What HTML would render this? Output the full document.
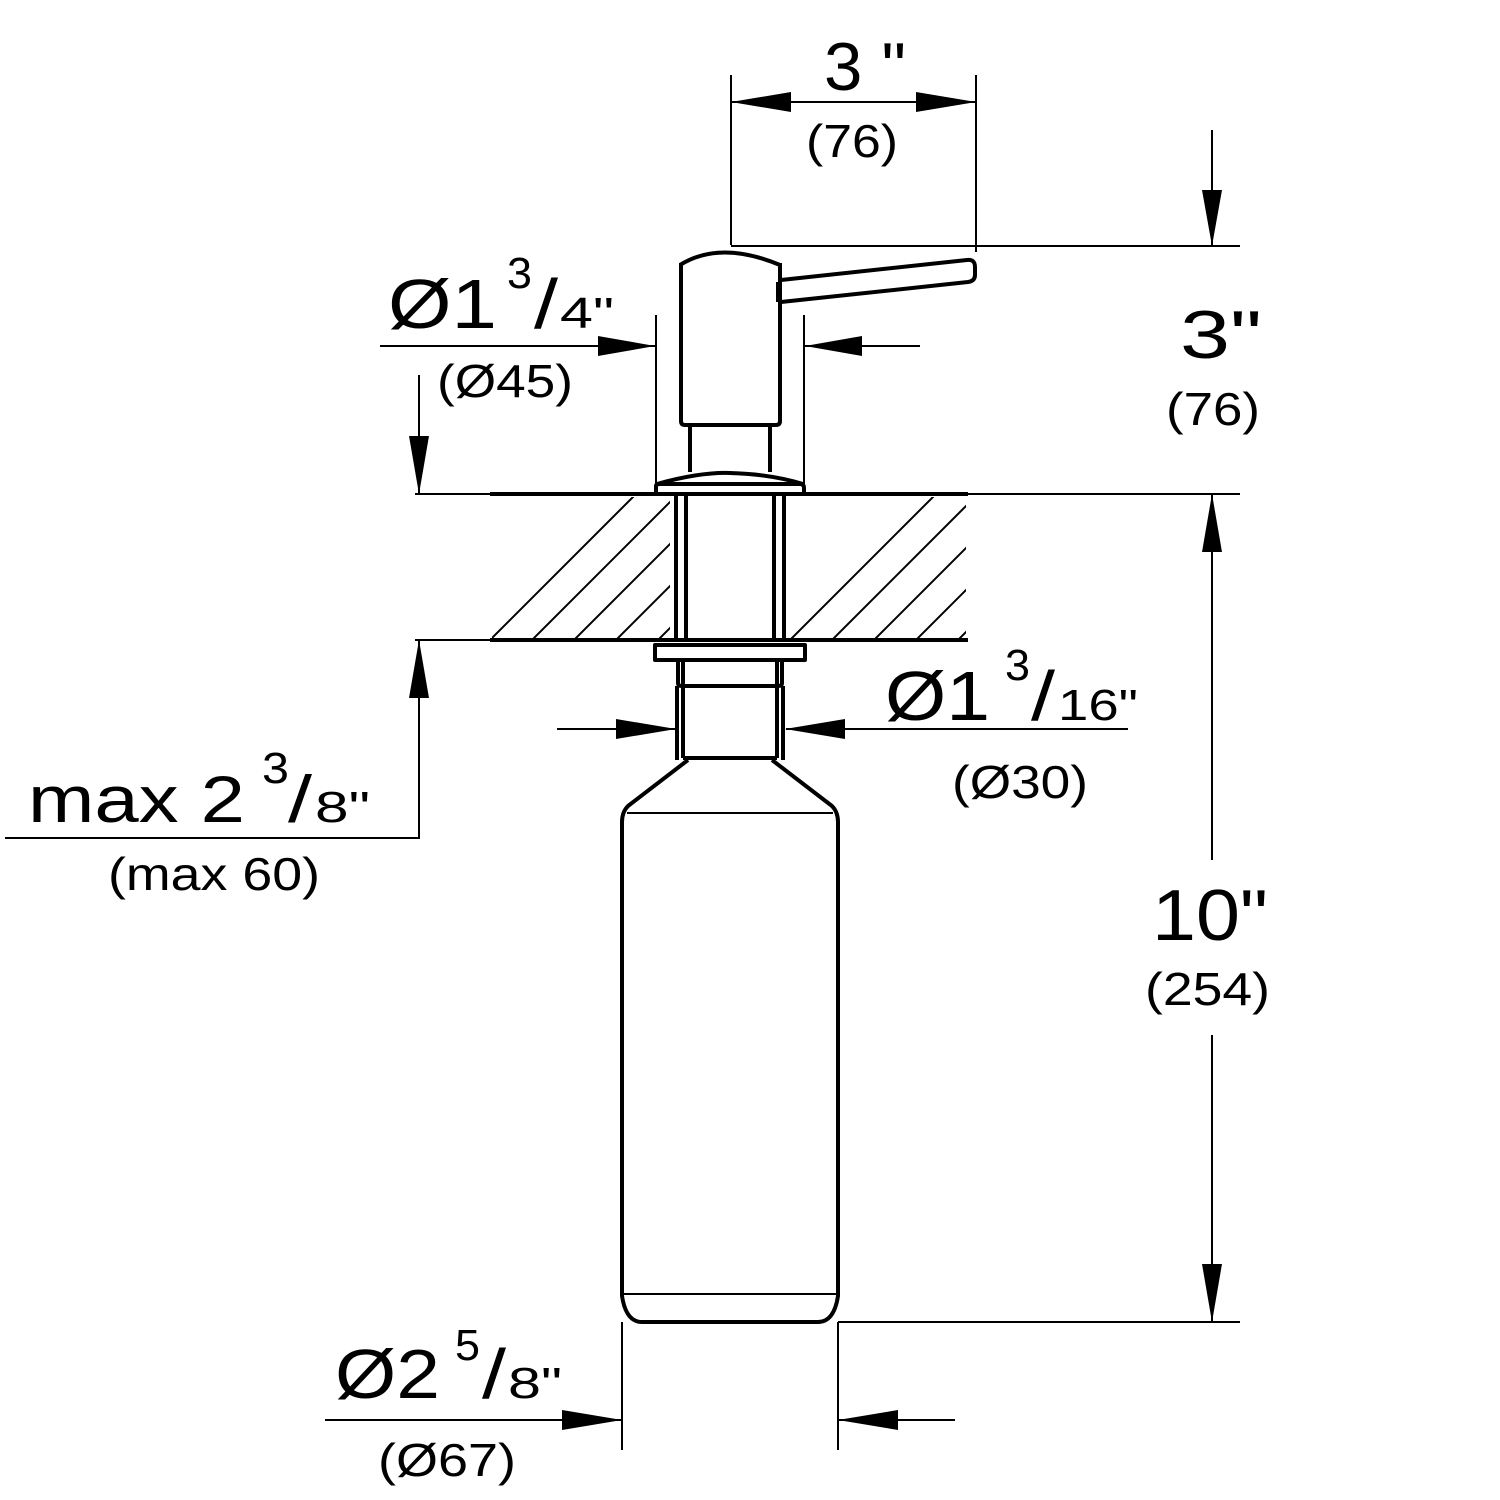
<!DOCTYPE html>
<html><head><meta charset="utf-8"><style>
html,body{margin:0;padding:0;background:#fff;}
svg{display:block;}
text{font-family:"Liberation Sans",Arial,sans-serif;fill:#000;}
</style></head><body>
<svg width="1500" height="1500" viewBox="0 0 1500 1500" xmlns="http://www.w3.org/2000/svg">
<defs>
<clipPath id="hl"><rect x="492" y="497" width="178" height="141"/></clipPath>
<clipPath id="hr"><rect x="790" y="497" width="176" height="141"/></clipPath>
</defs>
<g stroke="#000" stroke-width="2" fill="none">
<g clip-path="url(#hl)">
<path d="M390 740 L640 490 M432 740 L682 490 M474 740 L724 490 M516 740 L766 490 M558 740 L808 490 M600 740 L850 490 M642 740 L892 490 M684 740 L934 490"/>
</g>
<g clip-path="url(#hr)">
<path d="M690 740 L940 490 M732 740 L982 490 M774 740 L1024 490 M816 740 L1066 490 M858 740 L1108 490 M900 740 L1150 490 M942 740 L1192 490 M984 740 L1234 490"/>
</g>
<path d="M415 494 H1240 M415 640 H968"/>
<path d="M490 494 H968 M490 640 H968" stroke-width="4"/>
<g stroke-width="4" stroke-linejoin="round">
<path d="M680 265 Q720 240 780 265 M681 263 V421 Q681 425 685 425 H776 Q780 425 780 421 V263"/>
<path d="M690 425 V472 M770 425 V472"/>
<path d="M657 484 Q700 472 730 473 Q770 474 803 484 M656 494 V486 Q656 484 660 484 H800 Q804 484 804 488 V494"/>
<path d="M781 280 L967 260 Q975 259 975 267 V275 Q975 281 968 282 L781 302 M778 282 V302"/>
<path d="M676 494 V642 M784 494 V642 M686 494 V642 M774 494 V642"/>
<path d="M655 645 H805 V660 H655 Z"/>
<path d="M678 660 V683 Q678 686 682 686 H778 Q782 686 782 683 V660"/>
<path d="M683 660 V686 M777 660 V686"/>
<path d="M677 686 V760 M783 686 V760 M683 686 V758 M777 686 V758 M683 758 H777"/>
<path d="M688 760 L628 806 Q622 812 622 822 V1296 Q626 1322 642 1322 H818 Q834 1322 838 1296 V822 Q838 812 832 806 L772 760"/>
</g>
<path d="M627 813 H833 M622 1294 H838"/>
<path d="M731 75 V245 M976 75 V252 M731 102 H976"/>
<path d="M731 246 H1240 M1212 130 V246"/>
<path d="M1212 494 V860 M1212 1035 V1322 M838 1322 H1240"/>
<path d="M419 375 V494 M419 640 V838 H5"/>
<path d="M380 346 H655 M656 315 V485 M804 315 V485 M804 346 H920"/>
<path d="M557 729 H675 M786 729 H1128"/>
<path d="M622 1322 V1450 M838 1322 V1450 M325 1420 H622 M838 1420 H955"/>
</g>
<g fill="#000">
<polygon points="731,102 791,92 791,112"/>
<polygon points="976,102 916,92 916,112"/>
<polygon points="1212,246 1202,190 1222,190"/>
<polygon points="1212,494 1202,552 1222,552"/>
<polygon points="1212,1322 1202,1264 1222,1264"/>
<polygon points="419,494 409,436 429,436"/>
<polygon points="419,640 409,698 429,698"/>
<polygon points="655,346 598,336 598,356"/>
<polygon points="805,346 862,336 862,356"/>
<polygon points="676,729 616,719 616,739"/>
<polygon points="785,729 845,719 845,739"/>
<polygon points="622,1420 562,1410 562,1430"/>
<polygon points="838,1420 898,1410 898,1430"/>
</g>
<text x="824" y="90" font-size="68" textLength="82" lengthAdjust="spacingAndGlyphs">3 "</text>
<text x="806" y="157" font-size="46" textLength="92" lengthAdjust="spacingAndGlyphs">(76)</text>
<text x="1180" y="358" font-size="68" textLength="82" lengthAdjust="spacingAndGlyphs">3"</text>
<text x="1166" y="425" font-size="46" textLength="94" lengthAdjust="spacingAndGlyphs">(76)</text>
<text x="1152" y="940" font-size="72" textLength="116" lengthAdjust="spacingAndGlyphs">10"</text>
<text x="1145" y="1005" font-size="46" textLength="125" lengthAdjust="spacingAndGlyphs">(254)</text>
<text x="388" y="328" font-size="70" textLength="109" lengthAdjust="spacingAndGlyphs">Ø1</text>
<text x="507" y="288" font-size="44" textLength="25" lengthAdjust="spacingAndGlyphs">3</text>
<text x="534" y="328" font-size="70" textLength="24" lengthAdjust="spacingAndGlyphs">/</text>
<text x="560" y="328" font-size="44" textLength="54" lengthAdjust="spacingAndGlyphs">4"</text>
<text x="437" y="397" font-size="46" textLength="136" lengthAdjust="spacingAndGlyphs">(Ø45)</text>
<text x="885" y="720" font-size="70" textLength="105" lengthAdjust="spacingAndGlyphs">Ø1</text>
<text x="1005" y="680" font-size="44" textLength="25" lengthAdjust="spacingAndGlyphs">3</text>
<text x="1031" y="720" font-size="70" textLength="24" lengthAdjust="spacingAndGlyphs">/</text>
<text x="1058" y="720" font-size="44" textLength="80" lengthAdjust="spacingAndGlyphs">16"</text>
<text x="952" y="798" font-size="46" textLength="136" lengthAdjust="spacingAndGlyphs">(Ø30)</text>
<text x="28" y="822" font-size="66" textLength="217" lengthAdjust="spacingAndGlyphs">max 2</text>
<text x="262" y="783" font-size="44" textLength="27" lengthAdjust="spacingAndGlyphs">3</text>
<text x="288" y="822" font-size="66" textLength="24" lengthAdjust="spacingAndGlyphs">/</text>
<text x="315" y="822" font-size="44" textLength="55" lengthAdjust="spacingAndGlyphs">8"</text>
<text x="108" y="890" font-size="46" textLength="212" lengthAdjust="spacingAndGlyphs">(max 60)</text>
<text x="335" y="1398" font-size="70" textLength="105" lengthAdjust="spacingAndGlyphs">Ø2</text>
<text x="455" y="1360" font-size="44" textLength="25" lengthAdjust="spacingAndGlyphs">5</text>
<text x="482" y="1398" font-size="70" textLength="24" lengthAdjust="spacingAndGlyphs">/</text>
<text x="508" y="1398" font-size="44" textLength="54" lengthAdjust="spacingAndGlyphs">8"</text>
<text x="378" y="1476" font-size="46" textLength="138" lengthAdjust="spacingAndGlyphs">(Ø67)</text>
</svg>
</body></html>
